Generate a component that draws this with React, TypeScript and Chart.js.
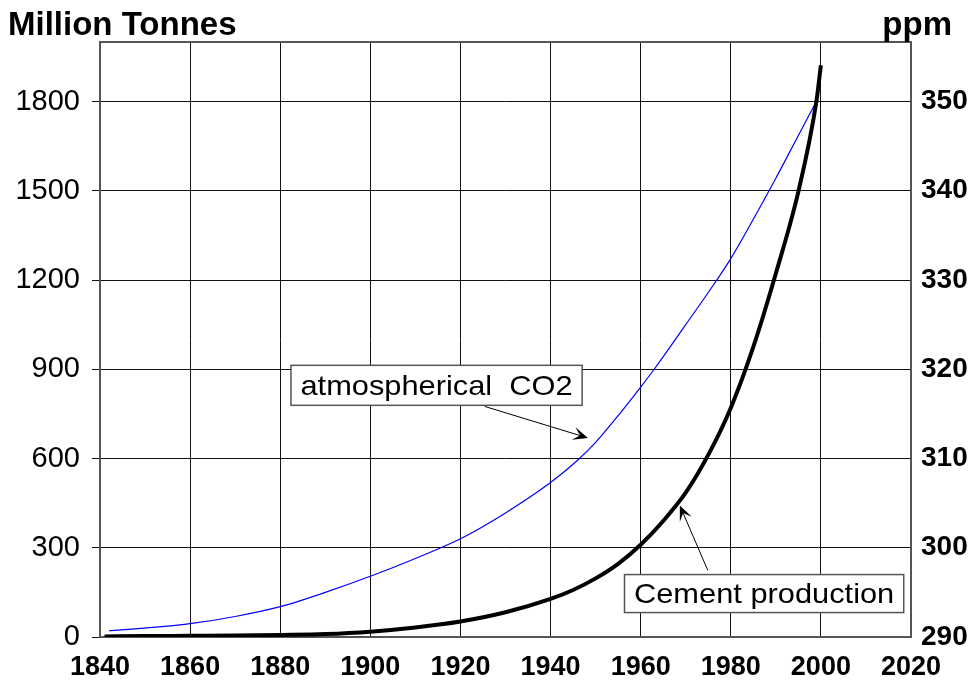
import { useEffect, useRef } from "react";
import { Chart, registerables } from "chart.js";

Chart.register(...registerables);

const FONT = "'Liberation Sans', Arial, Helvetica, sans-serif";

// ---- data ----
const cementYears = [1841, 1850, 1860, 1870, 1880, 1890, 1900, 1910, 1920, 1930, 1940, 1945, 1950, 1955, 1960, 1965, 1970, 1975, 1980, 1985, 1990, 1995, 1999, 2000];
const cementMt = [2, 3, 4, 5, 7, 10, 18, 32, 52, 83, 128, 158, 197, 246, 310, 390, 485, 612, 770, 975, 1222, 1497, 1800, 1922];

const co2Years = [1842, 1850, 1860, 1870, 1880, 1890, 1900, 1910, 1920, 1930, 1940, 1946, 1950, 1955, 1960, 1963, 1970, 1975, 1980, 1985, 1990, 1995, 1999];
const co2Ppm = [290.7, 291.0, 291.5, 292.3, 293.4, 295.0, 296.8, 298.8, 301.0, 303.9, 307.3, 309.8, 311.8, 314.8, 318.0, 320.0, 325.0, 328.6, 332.4, 336.8, 341.4, 346.2, 350.0];

const xMin = 1840;
const xMax = 2020;
const xStep = 20;
const leftMin = 0;
const leftMax = 2000;
const leftStep = 300;
const rightMin = 290;
const rightMax = 290 + 2000 / 30;
const rightStep = 10;

const leftTitle = "Million Tonnes";
const rightTitle = "ppm";
const co2Label = "atmospherical  CO2";
const cementLabel = "Cement production";

// annotation anchors in data units (x: year, y: left axis value)
const co2Center = [1914.7, 846];
const co2ArrowFrom = [1925.4, 775];
const co2ArrowTo = [1948.3, 669];
const cementCenter = [1987.4, 146];
const cementArrowFrom = [1974.9, 224];
const cementArrowTo = [1968.7, 442];

function drawArrow(ctx: CanvasRenderingContext2D, x0: number, y0: number, x1: number, y1: number) {
  const dx = x1 - x0;
  const dy = y1 - y0;
  const len = Math.hypot(dx, dy);
  const ux = dx / len;
  const uy = dy / len;
  const nx = -uy;
  const ny = ux;
  const L = 15;
  const W = 6.5;
  ctx.save();
  ctx.strokeStyle = "#000";
  ctx.lineWidth = 1;
  ctx.beginPath();
  ctx.moveTo(x0, y0);
  ctx.lineTo(x1 - ux * L * 0.5, y1 - uy * L * 0.5);
  ctx.stroke();
  ctx.fillStyle = "#000";
  ctx.beginPath();
  ctx.moveTo(x1, y1);
  ctx.lineTo(x1 - ux * L + nx * W, y1 - uy * L + ny * W);
  ctx.lineTo(x1 - ux * L * 0.55, y1 - uy * L * 0.55);
  ctx.lineTo(x1 - ux * L - nx * W, y1 - uy * L - ny * W);
  ctx.closePath();
  ctx.fill();
  ctx.restore();
}

function drawNote(chart: any, label: string, center: number[], from: number[], to: number[], h: number, baseOff: number) {
  const { ctx, scales } = chart;
  const xs = scales.x;
  const ys = scales.y;
  const cx = xs.getPixelForValue(center[0]);
  const cy = ys.getPixelForValue(center[1]);
  ctx.save();
  ctx.font = `28px ${FONT}`;
  const sx = 1.1;
  const tw = ctx.measureText(label).width * sx;
  const padX = 9.5;
  const bx = cx - tw / 2 - padX;
  const by = cy - h / 2;
  ctx.fillStyle = "#fff";
  ctx.fillRect(bx, by, tw + 2 * padX, h);
  ctx.strokeStyle = "#555";
  ctx.lineWidth = 1.5;
  ctx.strokeRect(bx, by, tw + 2 * padX, h);
  ctx.fillStyle = "#000";
  ctx.textBaseline = "alphabetic";
  ctx.textAlign = "left";
  ctx.translate(cx - tw / 2, cy + baseOff);
  ctx.scale(sx, 1);
  ctx.fillText(label, 0, 0);
  ctx.restore();
  drawArrow(
    ctx,
    xs.getPixelForValue(from[0]),
    ys.getPixelForValue(from[1]),
    xs.getPixelForValue(to[0]),
    ys.getPixelForValue(to[1])
  );
}

const framePlugin = {
  id: "frame",
  beforeDatasetsDraw(chart: any) {
    const { ctx, chartArea } = chart;
    ctx.save();
    ctx.strokeStyle = "#555";
    ctx.lineWidth = 2;
    ctx.strokeRect(
      Math.round(chartArea.left),
      Math.round(chartArea.top),
      Math.round(chartArea.right) - Math.round(chartArea.left),
      Math.round(chartArea.bottom) - Math.round(chartArea.top)
    );
    ctx.restore();
  },
  afterDatasetsDraw(chart: any) {
    drawNote(chart, co2Label, co2Center, co2ArrowFrom, co2ArrowTo, 40, 10);
    drawNote(chart, cementLabel, cementCenter, cementArrowFrom, cementArrowTo, 38, 9);
  },
  afterDraw(chart: any) {
    const { ctx } = chart;
    ctx.save();
    ctx.fillStyle = "#000";
    ctx.textBaseline = "alphabetic";
    ctx.font = `bold 33px ${FONT}`;
    ctx.textAlign = "left";
    ctx.fillText(leftTitle, 8, 35);
    ctx.font = `bold 33px ${FONT}`;
    ctx.textAlign = "right";
    ctx.fillText(rightTitle, 952, 35);
    ctx.restore();
  },
};

export default function App() {
  const ref = useRef<HTMLCanvasElement | null>(null);

  useEffect(() => {
    document.body.style.margin = "0";
    const canvas = ref.current;
    if (!canvas) return;
    const chart = new Chart(canvas, {
      type: "line",
      data: {
        datasets: [
          {
            label: cementLabel,
            data: cementYears.map((x, i) => ({ x, y: cementMt[i] })),
            yAxisID: "y",
            borderColor: "#000",
            borderWidth: 4,
            pointRadius: 0,
            cubicInterpolationMode: "monotone",
            borderCapStyle: "butt",
            fill: false,
          },
          {
            label: co2Label,
            data: co2Years.map((x, i) => ({ x, y: co2Ppm[i] })),
            yAxisID: "y1",
            borderColor: "#0000ff",
            borderWidth: 1.2,
            pointRadius: 0,
            cubicInterpolationMode: "monotone",
            fill: false,
          },
        ],
      },
      options: {
        animation: false,
        responsive: false,
        devicePixelRatio: 1,
        layout: { padding: { top: 42, left: 0, right: 0, bottom: 0 } },
        plugins: {
          legend: { display: false },
          tooltip: { enabled: false },
          title: { display: false },
        },
        scales: {
          x: {
            type: "linear",
            min: xMin,
            max: xMax,
            ticks: {
              stepSize: xStep,
              color: "#000",
              padding: 14,
              font: { family: FONT, size: 27, weight: "bold" },
              callback: (v: any) => String(v),
            },
            grid: { color: "#111", lineWidth: 1, drawTicks: false },
            border: { display: false },
            afterFit: (s: any) => {
              s.height = 49;
            },
          },
          y: {
            type: "linear",
            position: "left",
            min: leftMin,
            max: leftMax,
            ticks: {
              stepSize: leftStep,
              includeBounds: false,
              color: "#000",
              padding: 12,
              font: { family: FONT, size: 29 },
              callback: (v: any) => String(v),
            },
            grid: { color: "#111", lineWidth: 1, tickLength: 8 },
            border: { display: false },
            afterFit: (s: any) => {
              s.width = 100;
            },
          },
          y1: {
            type: "linear",
            position: "right",
            min: rightMin,
            max: rightMax,
            ticks: {
              stepSize: rightStep,
              includeBounds: false,
              color: "#000",
              padding: 10,
              font: { family: FONT, size: 28, weight: "bold" },
              callback: (v: any) => String(v),
            },
            grid: { drawOnChartArea: false, drawTicks: false },
            border: { display: false },
            afterFit: (s: any) => {
              s.width = 68;
            },
          },
        },
      },
      plugins: [framePlugin],
    } as any);
    return () => chart.destroy();
  }, []);

  return (
    <div style={{ width: 979, height: 686 }}>
      <canvas ref={ref} width={979} height={686} style={{ display: "block" }} />
    </div>
  );
}
